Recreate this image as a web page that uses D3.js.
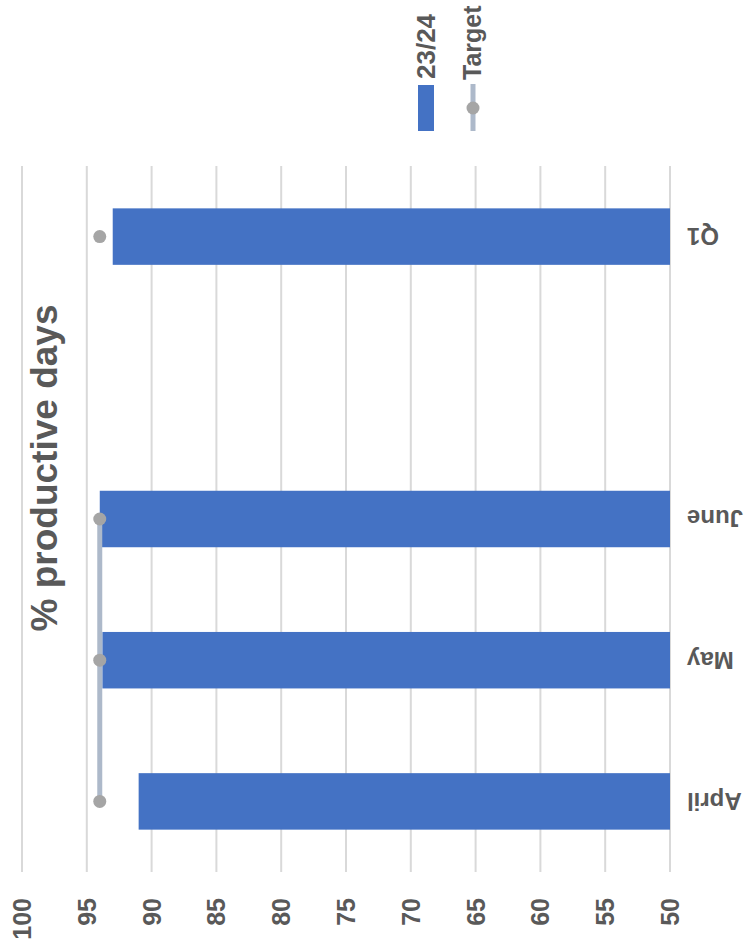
<!DOCTYPE html>
<html>
<head>
<meta charset="utf-8">
<script src="https://cdn.jsdelivr.net/npm/d3@7"></script>
<style>
  html, body { margin: 0; padding: 0; background: #fff; }
  svg { display: block; }
  text { font-family: "Liberation Sans", Arial, sans-serif; font-weight: bold; fill: #595959; }
</style>
</head>
<body>
<svg id="chart" width="748" height="950"></svg>
<script>
// ---- data ----
const categories = ["April", "May", "June", " ", "Q1"];
const actual2324 = [91, 93.8, 94, null, 93];
const target = [94, 94, 94, null, 94];
const valueTicks = [50, 55, 60, 65, 70, 75, 80, 85, 90, 95, 100];
const chartTitle = "% productive days";
const seriesNames = ["23/24", "Target"];

// ---- layout ----
const W = 748, H = 950;
const svg = d3.select("#chart");
const BAR = "#4472c4", DOT = "#a5a5a5", LINE = "#adb9ca", GRID = "#d9d9d9";

const x = d3.scaleLinear().domain([50, 100]).range([670, 22]);
const y = d3.scaleBand().domain(categories).range([872, 166])
  .paddingInner(0.6).paddingOuter(0.3);

// gridlines
svg.append("g").selectAll("line").data(valueTicks).join("line")
  .attr("x1", d => x(d)).attr("x2", d => x(d))
  .attr("y1", 166).attr("y2", 872)
  .attr("stroke", GRID).attr("stroke-width", 2);

// tick labels (rotated)
svg.append("g").selectAll("text").data(valueTicks).join("text")
  .attr("transform", d => `translate(${x(d)},898) rotate(-90)`)
  .attr("text-anchor", "end")
  .attr("dy", "0.36em")
  .style("font-size", "25px")
  .text(d => d);

// category labels (upside down)
svg.append("g").selectAll("text").data(categories).join("text")
  .attr("transform", d => `translate(687,${y(d) + y.bandwidth() / 2}) rotate(180)`)
  .attr("text-anchor", "end")
  .attr("dy", "0.36em")
  .style("font-size", "24px")
  .text(d => d.trim());

// bars
const barData = categories.map((c, i) => ({ c, v: actual2324[i] })).filter(d => d.v != null);
svg.append("g").selectAll("rect").data(barData).join("rect")
  .attr("x", d => x(d.v))
  .attr("y", d => y(d.c))
  .attr("width", d => x(50) - x(d.v))
  .attr("height", y.bandwidth())
  .attr("fill", BAR);

// target line + markers
const tData = categories.map((c, i) => ({ c, v: target[i] }));
const line = d3.line()
  .defined(d => d.v != null)
  .x(d => x(d.v))
  .y(d => y(d.c) + y.bandwidth() / 2);
svg.append("path").datum(tData)
  .attr("d", line)
  .attr("fill", "none")
  .attr("stroke", LINE)
  .attr("stroke-width", 5);
svg.append("g").selectAll("circle").data(tData.filter(d => d.v != null)).join("circle")
  .attr("cx", d => x(d.v))
  .attr("cy", d => y(d.c) + y.bandwidth() / 2)
  .attr("r", 6.5)
  .attr("fill", DOT);

// title
svg.append("text")
  .attr("transform", "translate(57,468) rotate(-90)")
  .attr("text-anchor", "middle")
  .style("font-size", "37px")
  .text(chartTitle);

// legend
const lg = svg.append("g");
lg.append("rect").attr("x", 418).attr("y", 85).attr("width", 16).attr("height", 46).attr("fill", BAR);
lg.append("text")
  .attr("transform", "translate(426,79) rotate(-90)")
  .attr("text-anchor", "start")
  .attr("dy", "0.36em")
  .style("font-size", "26px")
  .text(seriesNames[0]);
lg.append("line").attr("x1", 473).attr("x2", 473).attr("y1", 84).attr("y2", 131)
  .attr("stroke", LINE).attr("stroke-width", 5);
lg.append("circle").attr("cx", 473).attr("cy", 108).attr("r", 6.5).attr("fill", DOT);
lg.append("text")
  .attr("transform", "translate(472,80) rotate(-90)")
  .attr("text-anchor", "start")
  .attr("dy", "0.36em")
  .style("font-size", "25px")
  .text(seriesNames[1]);
</script>
</body>
</html>
